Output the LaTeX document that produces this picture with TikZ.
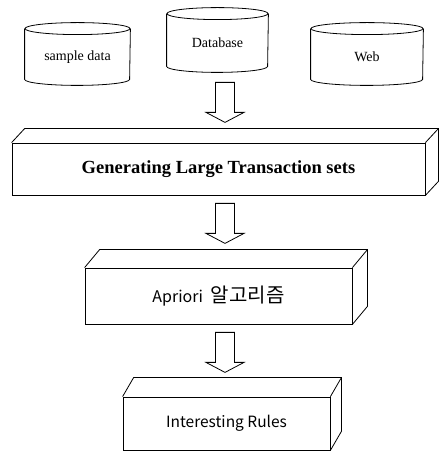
\documentclass[tikz,border=0pt]{standalone}
\usepackage{fontspec}
\setmainfont{Liberation Serif}
\newfontfamily\krfont{Noto Sans CJK KR}
\usetikzlibrary{positioning, calc}

% outline of a data store round a node: #1 node, #2 x radius
\newcommand{\drumline}[2]{%
  \draw ($(#1.north)+(0,6)$) ellipse [x radius=#2, y radius=6];
  \draw ($(#1.north west)+(0,6)$) -- (#1.south west)
        arc[start angle=180, end angle=360, x radius=#2, y radius=6]
        -- ($(#1.north east)+(0,6)$);
}
% top and side faces of a block: #1 node, #2 dx, #3 dy
\newcommand{\blockface}[3]{%
  \draw (#1.north west) -- ++(#2,#3) -| ($(#1.south east)+(#2,#3)$) -- (#1.south east);
  \draw (#1.north east) -- ++(#2,#3);
}

\begin{document}
\begin{tikzpicture}[x=1pt, y=1pt, line width=0.8pt,
    store/.style={minimum height=44pt, inner sep=0pt, font=\fontsize{14}{17}\selectfont},
    block/.style={draw, inner sep=0pt},
    fatarrow/.pic={\draw (-9.5,0) -- (-9.5,-30) -- (-19,-30) -- (0,-40) -- (19,-30) -- (9.5,-30) -- (9.5,0) -- cycle;}]
    \useasboundingbox (0,0) rectangle (440,452);

    \node[store, minimum width=105pt] (sd) at (77.5,395) {sample data};
    \node[store, minimum width=101pt, minimum height=46pt] (db) at (217.5,409) {Database};
    \node[store, minimum width=112pt] (web) at (367,395) {Web};
    \drumline{sd}{52.5}
    \drumline{db}{50.5}
    \drumline{web}{56}

    \node[block, minimum width=413pt, minimum height=52pt, font=\fontsize{18.5}{20}\selectfont\bfseries] (gen) at (218.5,283) {Generating Large Transaction sets};
    \blockface{gen}{13}{14}

    \node[block, minimum width=267pt, minimum height=56pt, font=\fontsize{16}{20}\selectfont\krfont] (apr) at (218.5,156) {Apriori\hspace{8pt}{\fontsize{20}{22}\selectfont 알고리즘}};
    \blockface{apr}{15}{18}

    \node[block, minimum width=207pt, minimum height=53pt, font=\fontsize{15.5}{19}\selectfont\krfont] (rules) at (226.5,28.5) {Interesting Rules};
    \blockface{rules}{11}{19}

    \pic at ([xshift=7.5pt, yshift=-16pt]db.south) {fatarrow};
    \pic at ([xshift=6.5pt, yshift=-8pt]gen.south) {fatarrow};
    \pic at ([xshift=6.5pt, yshift=-8pt]apr.south) {fatarrow};
\end{tikzpicture}
\end{document}
